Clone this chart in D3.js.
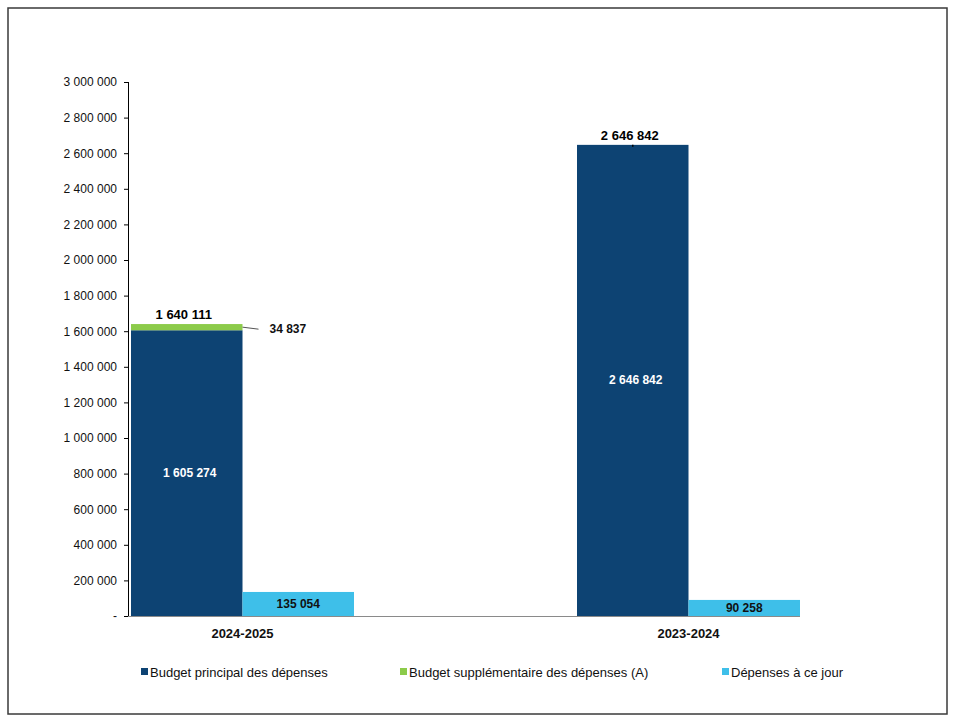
<!DOCTYPE html>
<html>
<head>
<meta charset="utf-8">
<script src="https://cdn.jsdelivr.net/npm/d3@7"></script>
<style>
  html, body { margin: 0; padding: 0; background: #fff; }
  svg { display: block; font-family: "Liberation Sans", Arial, sans-serif; }
</style>
</head>
<body>
<svg id="chart" width="958" height="726"></svg>
<script>
// ---- Data ----
const categories = ["2024-2025", "2023-2024"];
const budgetPrincipal = [1605274, 2646842];
const budgetSupplementaire = [34837, 0];
const depensesAJour = [135054, 90258];
const yTickValues = [0, 200000, 400000, 600000, 800000, 1000000, 1200000, 1400000,
                     1600000, 1800000, 2000000, 2200000, 2400000, 2600000, 2800000, 3000000];
const seriesNames = ["Budget principal des dépenses", "Budget supplémentaire des dépenses (A)", "Dépenses à ce jour"];
const seriesColors = ["#0D4373", "#8CCB4A", "#3EBFE9"];

// ---- Layout ----
const svg = d3.select("#chart");
const plotTop = 82, plotBottom = 616, axisX = 129;

svg.append("rect").attr("x", 8).attr("y", 8).attr("width", 939).attr("height", 706)
  .attr("fill", "#fff").attr("stroke", "#3a3a3a").attr("stroke-width", 1.5);

const fmt = v => v === 0 ? "-" : d3.format(",")(v).replace(/,/g, " ");

const y = d3.scaleLinear().domain([0, 3000000]).range([plotBottom, plotTop]);
const x = d3.scaleBand().domain(categories).range([131, 800]).paddingInner(0.5).paddingOuter(0);
const xSub = d3.scaleBand().domain(["principal", "depenses"]).range([0, x.bandwidth()]);

// Y axis
const yAxis = svg.append("g").attr("transform", `translate(${axisX},0)`)
  .call(d3.axisLeft(y).tickValues(yTickValues).tickSize(5).tickPadding(7).tickFormat(fmt));
yAxis.select(".domain").attr("stroke", "#000").attr("d", `M-0.5,${plotTop}V${plotBottom}`);
yAxis.selectAll(".tick line").attr("stroke", "#000");
yAxis.selectAll(".tick text").attr("font-size", 12).attr("fill", "#111")
  .attr("font-family", "Liberation Sans, Arial, sans-serif");

const rows = categories.map((c, i) => ({
  cat: c, principal: budgetPrincipal[i], supp: budgetSupplementaire[i], dep: depensesAJour[i]
}));

// Bars
const g = svg.append("g");
rows.forEach(r => {
  const x0 = x(r.cat);
  const px = x0 + xSub("principal"), pw = xSub.bandwidth();
  const dx = x0 + xSub("depenses");
  g.append("rect").attr("x", px).attr("width", pw)
    .attr("y", y(r.principal)).attr("height", y(0) - y(r.principal)).attr("fill", seriesColors[0]);
  if (r.supp > 0) {
    g.append("rect").attr("x", px).attr("width", pw)
      .attr("y", y(r.principal + r.supp)).attr("height", y(r.principal) - y(r.principal + r.supp))
      .attr("fill", seriesColors[1]);
  }
  g.append("rect").attr("x", dx).attr("width", pw)
    .attr("y", y(r.dep)).attr("height", y(0) - y(r.dep)).attr("fill", seriesColors[2]);

  const total = r.principal + r.supp;
  g.append("text").attr("x", px + pw / 2 - 3).attr("y", y(total) - 5)
    .attr("text-anchor", "middle").attr("font-size", 13).attr("font-weight", "bold")
    .attr("fill", "#000").text(fmt(total));
  g.append("text").attr("x", px + pw / 2 + 3).attr("y", y(r.principal / 2) + 4)
    .attr("text-anchor", "middle").attr("font-size", 12).attr("font-weight", "bold")
    .attr("fill", "#fff").text(fmt(r.principal));
  g.append("text").attr("x", dx + pw / 2).attr("y", y(r.dep / 2) + 4)
    .attr("text-anchor", "middle").attr("font-size", 12).attr("font-weight", "bold")
    .attr("fill", "#111").text(fmt(r.dep));
  if (r.supp > 0) {
    const ym = y(r.principal + r.supp / 2);
    g.append("line").attr("x1", px + pw).attr("y1", ym).attr("x2", px + pw + 16).attr("y2", ym + 2)
      .attr("stroke", "#555").attr("stroke-width", 1);
    g.append("text").attr("x", px + pw + 27).attr("y", ym + 6)
      .attr("font-size", 12).attr("font-weight", "bold").attr("fill", "#111").text(fmt(r.supp));
  } else {
    g.append("line").attr("x1", px + pw / 2).attr("y1", y(total)).attr("x2", px + pw / 2).attr("y2", y(total) + 2)
      .attr("stroke", "#000").attr("stroke-width", 1.5);
  }
});

// X axis line
svg.append("line").attr("x1", axisX - 1).attr("x2", x(categories[1]) + x.bandwidth())
  .attr("y1", plotBottom + 0.5).attr("y2", plotBottom + 0.5).attr("stroke", "#8a8a8a").attr("stroke-width", 1.2);

// Category labels
categories.forEach(c => {
  svg.append("text").attr("x", x(c) + x.bandwidth() / 2)
    .attr("y", 638).attr("text-anchor", "middle").attr("font-size", 13).attr("font-weight", "bold")
    .attr("fill", "#111").text(c);
});

// Legend
const legendX = [141, 400, 722];
seriesNames.forEach((n, i) => {
  svg.append("rect").attr("x", legendX[i]).attr("y", 668).attr("width", 7).attr("height", 7)
    .attr("fill", seriesColors[i]);
  svg.append("text").attr("x", legendX[i] + 9).attr("y", 677).attr("font-size", 13)
    .attr("fill", "#111").text(n);
});
</script>
</body>
</html>
